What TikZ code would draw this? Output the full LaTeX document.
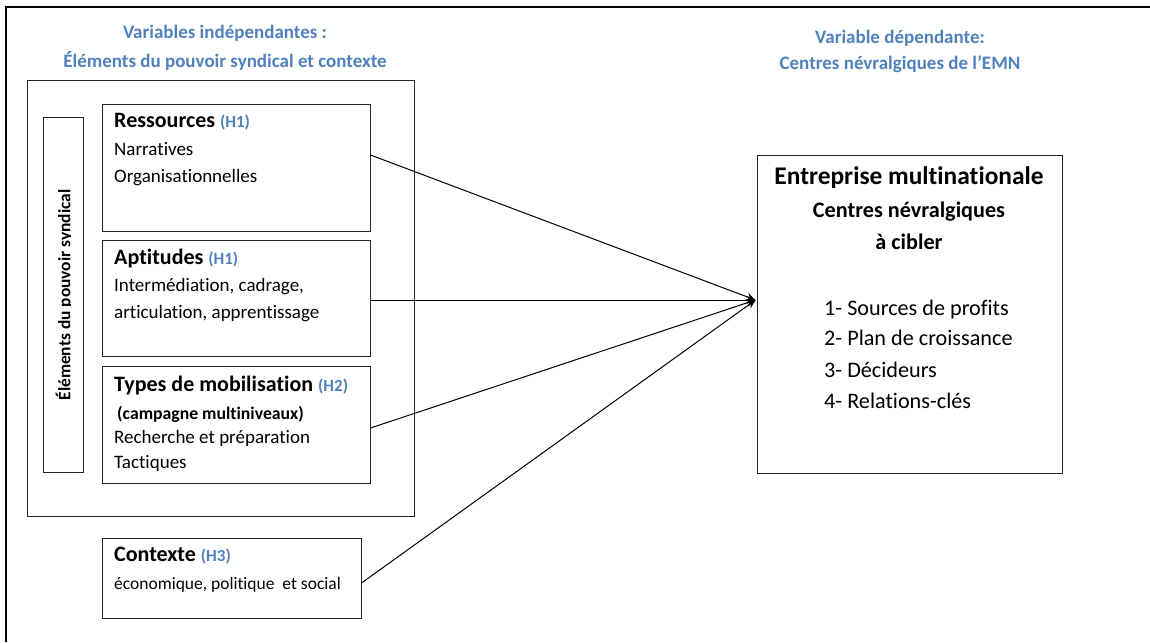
\documentclass[tikz,border=0pt]{standalone}
\usepackage{fontspec}
\setmainfont{Carlito}[Ligatures=NoCommon]
\usetikzlibrary{arrows.meta}
\definecolor{blu}{RGB}{79,129,189}
\tikzset{
  box/.style={draw=black!85, line width=1pt, rectangle, inner sep=0pt},
  body/.style={anchor=mid west, inner sep=0pt, font=\fontsize{19}{23}\selectfont},
  ttl/.style={anchor=mid west, inner sep=0pt, font=\bfseries\fontsize{22}{26}\selectfont},
  head/.style={inner sep=0pt, text=blu, font=\bfseries\fontsize{19}{23}\selectfont},
  emnt/.style={inner sep=0pt, font=\bfseries\fontsize{25.4}{30}\selectfont},
  emns/.style={inner sep=0pt, font=\bfseries\fontsize{22.2}{26}\selectfont},
  emnl/.style={anchor=mid west, inner sep=0pt, font=\fontsize{22.2}{26}\selectfont},
  conn/.style={line width=1pt, -{Stealth[length=9pt,width=8pt]}}
}
\newcommand{\hyp}[1]{\textcolor{blu}{\fontsize{17}{20}\selectfont #1}}
\begin{document}
\begin{tikzpicture}[x=1pt,y=-1pt]
\useasboundingbox (0,0) rectangle (1150,642);
% page frame
\draw[line width=1.6pt] (6,642) -- (6,7) -- (1150,7);
% titles
\node[head] (hl1) at (225,33) {Variables indépendantes :};
\node[head] (hl2) at (225,61) {Éléments du pouvoir syndical et contexte};
\node[head] (hr1) at (900,38) {Variable dépendante:};
\node[head] (hr2) at (900,64) {Centres névralgiques de l’EMN};
% boxes
\node[box, minimum width=387pt, minimum height=436pt] (big) at (220.5,298) {};
\node[box, minimum width=40pt, minimum height=355pt] (vert) at (63,294.5) {};
\begin{scope}
\clip (43,117) rectangle (70.5,472);
\node[inner sep=0pt, rotate=90, font=\bfseries\fontsize{17.4}{20}\selectfont] (vtxt) at (64.5,295) {Éléments du pouvoir syndical};
\end{scope}
\node[box, minimum width=268pt, minimum height=127pt] (res) at (236,167.5) {};
\node[box, minimum width=268pt, minimum height=116pt] (apt) at (236,298) {};
\node[box, minimum width=268pt, minimum height=117pt] (typ) at (236,424.5) {};
\node[box, minimum width=259pt, minimum height=80pt] (ctx) at (231.5,578) {};
\node[box, minimum width=305pt, minimum height=318pt] (emn) at (909.5,314) {};
% texts
\node[ttl] (res1) at (114,125) {Ressources \hyp{(H1)}};
\node[body] (res2) at (114,153) {Narratives};
\node[body] (res3) at (114,180) {Organisationnelles};
\node[ttl] (apt1) at (114,262) {Aptitudes \hyp{(H1)}};
\node[body] (apt2) at (114,289) {Intermédiation, cadrage,};
\node[body] (apt3) at (114,316) {articulation, apprentissage};
\node[ttl] (typ1) at (114,389) {Types de mobilisation \hyp{(H2)}};
\node[body, font=\bfseries\fontsize{17.7}{22}\selectfont] (typ2) at (117,417) {(campagne multiniveaux)};
\node[body] (typ3) at (114,441) {Recherche et préparation};
\node[body] (typ4) at (114,466) {Tactiques};
\node[ttl] (ctx1) at (114,559) {Contexte \hyp{(H3)}};
\node[body, font=\fontsize{17.5}{21}\selectfont] (ctx2) at (114,587) {économique, politique\ \ et social};
\node[emnt] (emn1) at (909,178) {Entreprise multinationale};
\node[emns] (emn2) at (909,212) {Centres névralgiques};
\node[emns] (emn3) at (909,242) {à cibler};
\node[emnl] (l1) at (824,313) {1- Sources de profits};
\node[emnl] (l2) at (824,343) {2- Plan de croissance};
\node[emnl] (l3) at (824,375) {3- Décideurs};
\node[emnl] (l4) at (824,406) {4- Relations-clés};
% connectors
\coordinate (tip) at ([xshift=-1pt,yshift=14pt]emn.west);
\draw[conn] ([yshift=12.5pt]res.east) -- (tip);
\draw[conn] ([yshift=-2pt]apt.east) -- (tip);
\draw[conn] ([yshift=-3.5pt]typ.east) -- (tip);
\draw[conn] ([yshift=-5pt]ctx.east) -- (tip);
\end{tikzpicture}
\end{document}
